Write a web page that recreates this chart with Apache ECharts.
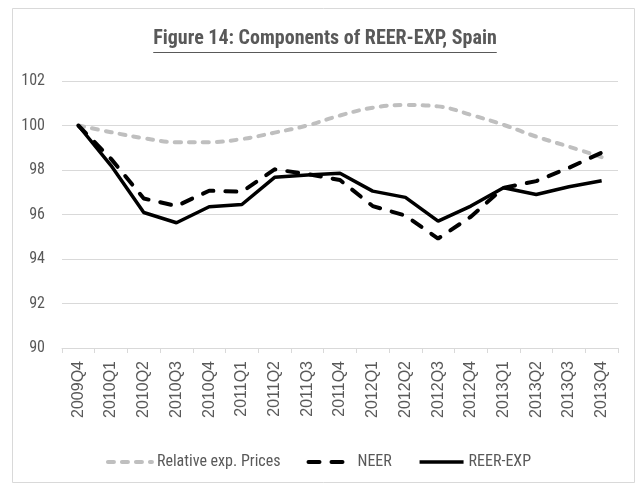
<!DOCTYPE html>
<html>
<head>
<meta charset="utf-8">
<title>Figure 14: Components of REER-EXP, Spain</title>
<script src="https://cdn.jsdelivr.net/npm/echarts@6/dist/echarts.min.js"></script>
<style>
  html, body { margin: 0; padding: 0; background: #fff; }
  #chart { width: 637px; height: 491px; }
</style>
</head>
<body>
<div id="chart"></div>
<script>
// quarters on the x axis
let quarters = ['2009Q4', '2010Q1', '2010Q2', '2010Q3', '2010Q4', '2011Q1', '2011Q2', '2011Q3', '2011Q4',
  '2012Q1', '2012Q2', '2012Q3', '2012Q4', '2013Q1', '2013Q2', '2013Q3', '2013Q4']

// values (2009Q4 = 100)
let relativeExpPrices = [100, 99.7, 99.43, 99.25, 99.25, 99.39, 99.68, 100.0, 100.45,
  100.8, 100.92, 100.86, 100.48, 100.03, 99.5, 99.05, 98.58]
let neer = [100, 98.5, 96.72, 96.38, 97.07, 97.02, 98.03, 97.82, 97.55,
  96.38, 95.95, 94.92, 95.9, 97.2, 97.5, 98.1, 98.78]
let reerExp = [100, 98.2, 96.09, 95.63, 96.35, 96.45, 97.67, 97.78, 97.85,
  97.05, 96.77, 95.7, 96.38, 97.2, 96.9, 97.25, 97.52]

let yTicks = { min: 90, max: 102, step: 2 }

let titleText = 'Figure 14: Components of REER-EXP, Spain'
let labelColor = '#595959'
let gridColor = '#d9d9d9'
let condensed = 'Roboto Condensed'

// width of the title, for the underline
function textWidth (text, font) {
  let ctx = document.createElement('canvas').getContext('2d')
  ctx.font = font
  return ctx.measureText(text).width
}

let titleSize = 20
let titleW = textWidth(titleText, 'bold ' + titleSize + 'px "' + condensed + '"')
let titleCenter = 325

let chart = echarts.init(document.getElementById('chart'), null, { renderer: 'canvas' })

chart.setOption({
  animation: false,
  backgroundColor: '#fff',
  title: {
    text: titleText,
    left: titleCenter - titleW / 2,
    top: 29,
    padding: 0,
    textStyle: {
      fontFamily: condensed,
      fontWeight: 'bold',
      fontSize: titleSize,
      color: labelColor
    }
  },
  graphic: [
    {
      type: 'rect',
      shape: { x: 12.5, y: 8.5, width: 622, height: 474 },
      style: { fill: 'none', stroke: gridColor, lineWidth: 1 },
      silent: true
    },
    {
      // underline of the title
      type: 'line',
      shape: { x1: titleCenter - titleW / 2, y1: 52.5, x2: titleCenter + titleW / 2, y2: 52.5 },
      style: { stroke: labelColor, lineWidth: 1 },
      silent: true
    }
  ],
  grid: { left: 62, right: 19, top: 81, bottom: 143, containLabel: false },
  legend: {
    left: 'center',
    top: 449,
    itemWidth: 44,
    itemHeight: 14,
    itemGap: 26,
    itemStyle: { opacity: 0 },
    lineStyle: { width: 'inherit' },
    textStyle: { fontFamily: condensed, fontSize: 16, color: labelColor },
    data: ['Relative exp. Prices', 'NEER', 'REER-EXP']
  },
  xAxis: {
    type: 'category',
    data: quarters,
    boundaryGap: true,
    axisLine: { lineStyle: { color: gridColor, width: 1 } },
    axisTick: { show: true, length: 5, lineStyle: { color: gridColor } },
    axisLabel: {
      rotate: 90,
      interval: 0,
      margin: 13,
      fontFamily: 'Liberation Sans',
      fontSize: 16,
      color: labelColor
    },
    splitLine: { show: false }
  },
  yAxis: {
    type: 'value',
    min: yTicks.min,
    max: yTicks.max,
    interval: yTicks.step,
    axisLine: { show: false },
    axisTick: { show: false },
    axisLabel: {
      margin: 17,
      fontFamily: condensed,
      fontSize: 16,
      color: labelColor
    },
    splitLine: { lineStyle: { color: gridColor, width: 1 } }
  },
  series: [
    {
      name: 'Relative exp. Prices',
      type: 'line',
      data: relativeExpPrices,
      smooth: 0.4,
      symbol: 'none',
      itemStyle: { color: '#bfbfbf' },
      lineStyle: { color: '#bfbfbf', width: 4, type: [6, 8], cap: 'round' },
      z: 1
    },
    {
      name: 'NEER',
      type: 'line',
      data: neer,
      symbol: 'none',
      itemStyle: { color: '#000' },
      lineStyle: { color: '#000', width: 4, type: [11, 12], cap: 'round' },
      z: 2
    },
    {
      name: 'REER-EXP',
      type: 'line',
      data: reerExp,
      symbol: 'none',
      itemStyle: { color: '#000' },
      lineStyle: { color: '#000', width: 3.5 },
      z: 3
    }
  ]
})
</script>
</body>
</html>
